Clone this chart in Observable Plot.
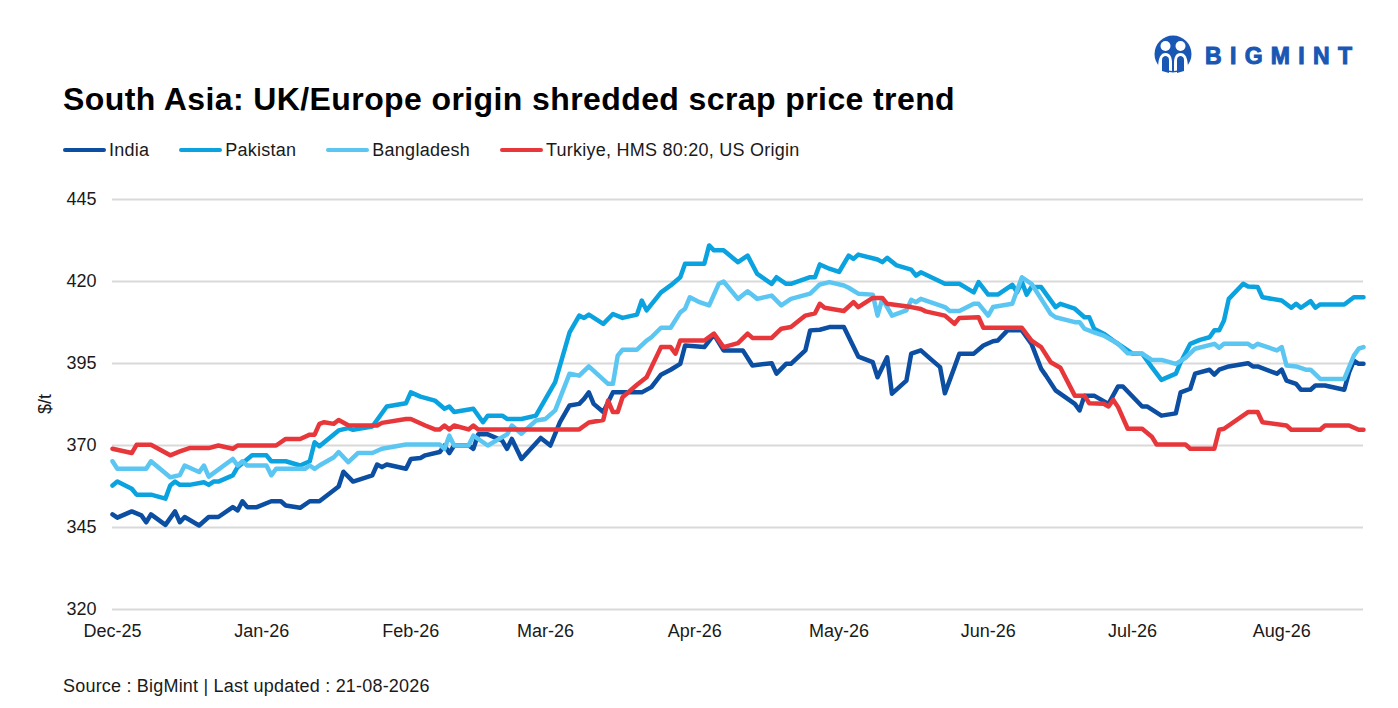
<!DOCTYPE html>
<html><head><meta charset="utf-8">
<script src="https://cdn.jsdelivr.net/npm/d3@7"></script>
<script src="https://cdn.jsdelivr.net/npm/@observablehq/plot@0.6"></script>
<style>
body{margin:0;background:#fff;font-family:"Liberation Sans",Arial,sans-serif;color:#1a1a1a;}
#wrap{position:relative;width:1398px;height:708px;overflow:hidden;background:#fff;}
#title{position:absolute;left:63px;top:83px;font-size:32px;line-height:32px;font-weight:bold;color:#000;white-space:nowrap;letter-spacing:0.4px;}
#legend{position:absolute;left:63px;top:141px;height:18px;display:flex;align-items:center;font-size:18px;line-height:18px;white-space:nowrap;letter-spacing:0.25px;}
.item{display:flex;align-items:center;margin-right:30px;}
.swatch{width:43px;height:4.5px;border-radius:2px;margin-right:3px;}
#chart{position:absolute;left:0;top:170px;}
#ylabel{position:absolute;left:45px;top:404px;transform:translate(-50%,-50%) rotate(-90deg);font-size:18px;line-height:18px;white-space:nowrap;}
#source{position:absolute;left:63px;top:677px;font-size:18px;line-height:18px;white-space:nowrap;letter-spacing:0.2px;}
#logo{position:absolute;left:1150px;top:33px;}
</style></head><body>
<div id="wrap">
  <div id="title">South Asia: UK/Europe origin shredded scrap price trend</div>
  <div id="legend"></div>
  <div id="chart"></div>
  <div id="ylabel">$/t</div>
  <div id="source">Source : BigMint | Last updated : 21-08-2026</div>
  <svg id="logo" width="210" height="44" viewBox="0 0 210 44">
    <circle cx="23" cy="21" r="18.5" fill="#1957b4"/>
    <circle cx="15.5" cy="13" r="5" fill="#fff"/>
    <circle cx="30.5" cy="13" r="5" fill="#fff"/>
    <path d="M8 36 C8 24 11 20 15.5 20 C20 20 22 24 22 30 L22 38 Z" fill="#fff"/>
    <path d="M24 38 L24 30 C24 24 26 20 30.5 20 C35 20 38 24 38 36 Z" fill="#fff"/>
    <path d="M12 38 L12 27 C12 24 14 23 15.5 23 C17 23 19 24 19 27 L19 40 Z" fill="#1957b4"/>
    <path d="M27 40 L27 27 C27 24 29 23 30.5 23 C32 23 34 24 34 27 L34 38 Z" fill="#1957b4"/>
    <text x="55" y="31" font-family="Liberation Sans, Arial, sans-serif" font-weight="bold" font-size="23" fill="#1957b4" stroke="#1957b4" stroke-width="1" textLength="147" lengthAdjust="spacing">BIGMINT</text>
  </svg>
</div>
<script>
const seriesNames = ["India", "Pakistan", "Bangladesh", "Turkiye, HMS 80:20, US Origin"];
const seriesColors = ["#0b4ea2", "#0aa2df", "#5bc6f2", "#e8373b"];
const yTicks = [320, 345, 370, 395, 420, 445];
const xStart = "2025-12-01";
const xEnd = "2026-08-18";

const india = [["2025-12-01",349.0],["2025-12-02",348.0],["2025-12-05",349.9],["2025-12-07",348.7],["2025-12-08",346.6],["2025-12-09",349.0],["2025-12-12",345.8],["2025-12-14",349.9],["2025-12-15",346.6],["2025-12-16",348.2],["2025-12-19",345.6],["2025-12-21",348.2],["2025-12-23",348.2],["2025-12-26",351.2],["2025-12-27",350.2],["2025-12-28",353.0],["2025-12-29",351.2],["2025-12-31",351.2],["2026-01-03",353.0],["2026-01-05",353.0],["2026-01-06",351.7],["2026-01-09",351.0],["2026-01-11",353.0],["2026-01-13",353.0],["2026-01-17",357.5],["2026-01-18",362.0],["2026-01-20",359.0],["2026-01-24",360.9],["2026-01-25",364.2],["2026-01-26",363.4],["2026-01-27",364.2],["2026-01-31",362.9],["2026-02-01",365.9],["2026-02-03",366.2],["2026-02-04",367.0],["2026-02-07",368.0],["2026-02-08",370.0],["2026-02-09",367.7],["2026-02-10",370.0],["2026-02-13",370.0],["2026-02-14",369.0],["2026-02-15",373.4],["2026-02-17",373.4],["2026-02-20",371.5],["2026-02-21",369.0],["2026-02-22",372.0],["2026-02-24",365.9],["2026-02-28",372.3],["2026-03-02",370.0],["2026-03-04",377.1],["2026-03-06",382.2],["2026-03-08",382.7],["2026-03-09",384.2],["2026-03-10",386.2],["2026-03-11",382.7],["2026-03-13",380.2],["2026-03-15",386.2],["2026-03-21",386.2],["2026-03-23",387.8],["2026-03-25",391.6],["2026-03-27",393.1],["2026-03-29",394.9],["2026-03-30",400.5],["2026-04-03",400.0],["2026-04-05",403.8],["2026-04-07",399.0],["2026-04-11",399.0],["2026-04-13",394.4],["2026-04-17",395.1],["2026-04-18",391.9],["2026-04-20",394.9],["2026-04-21",394.9],["2026-04-24",399.0],["2026-04-25",405.1],["2026-04-27",405.3],["2026-04-29",406.1],["2026-05-02",406.1],["2026-05-05",397.1],["2026-05-08",395.4],["2026-05-09",390.8],["2026-05-11",396.9],["2026-05-12",385.8],["2026-05-15",389.8],["2026-05-16",398.0],["2026-05-18",399.0],["2026-05-20",396.4],["2026-05-22",393.9],["2026-05-23",385.9],["2026-05-25",393.9],["2026-05-26",398.0],["2026-05-29",398.0],["2026-05-31",400.5],["2026-06-02",401.8],["2026-06-03",402.0],["2026-06-05",405.1],["2026-06-08",405.1],["2026-06-10",401.0],["2026-06-12",393.4],["2026-06-13",391.3],["2026-06-15",386.8],["2026-06-19",382.7],["2026-06-20",380.7],["2026-06-21",385.2],["2026-06-23",385.2],["2026-06-26",382.7],["2026-06-28",388.0],["2026-06-29",388.0],["2026-07-03",381.9],["2026-07-04",381.9],["2026-07-07",379.1],["2026-07-10",379.8],["2026-07-11",386.2],["2026-07-13",387.3],["2026-07-14",391.9],["2026-07-17",393.1],["2026-07-18",391.6],["2026-07-19",393.1],["2026-07-21",394.1],["2026-07-25",395.1],["2026-07-26",394.1],["2026-07-27",394.1],["2026-07-31",391.9],["2026-08-01",393.1],["2026-08-02",389.8],["2026-08-04",388.8],["2026-08-05",387.0],["2026-08-07",387.0],["2026-08-08",388.3],["2026-08-10",388.3],["2026-08-14",387.0],["2026-08-15",392.3],["2026-08-16",395.9],["2026-08-17",394.9],["2026-08-18",394.9]];

const pakistan = [["2025-12-01",357.8],["2025-12-02",359.0],["2025-12-05",356.8],["2025-12-06",355.0],["2025-12-09",355.0],["2025-12-12",353.8],["2025-12-13",357.8],["2025-12-14",359.0],["2025-12-15",358.0],["2025-12-17",358.0],["2025-12-20",358.8],["2025-12-21",358.0],["2025-12-22",359.0],["2025-12-23",359.0],["2025-12-26",360.9],["2025-12-27",363.4],["2025-12-30",367.0],["2026-01-02",367.0],["2026-01-03",365.2],["2026-01-06",365.2],["2026-01-09",363.9],["2026-01-11",365.2],["2026-01-12",371.0],["2026-01-13",369.8],["2026-01-17",374.6],["2026-01-19",375.3],["2026-01-20",374.8],["2026-01-24",375.8],["2026-01-27",381.9],["2026-01-31",382.9],["2026-02-01",386.2],["2026-02-03",384.9],["2026-02-06",383.7],["2026-02-08",381.2],["2026-02-09",381.9],["2026-02-10",380.2],["2026-02-14",381.2],["2026-02-16",377.1],["2026-02-17",379.1],["2026-02-20",379.1],["2026-02-21",378.1],["2026-02-24",378.1],["2026-02-27",379.1],["2026-03-01",384.2],["2026-03-03",389.3],["2026-03-06",404.5],["2026-03-08",409.6],["2026-03-09",408.9],["2026-03-10",409.9],["2026-03-13",407.1],["2026-03-15",410.1],["2026-03-17",408.9],["2026-03-20",409.9],["2026-03-21",414.2],["2026-03-22",411.2],["2026-03-25",416.7],["2026-03-27",418.8],["2026-03-29",421.3],["2026-03-30",425.4],["2026-04-03",425.4],["2026-04-04",431.0],["2026-04-05",429.5],["2026-04-07",429.5],["2026-04-10",425.9],["2026-04-12",427.9],["2026-04-14",422.3],["2026-04-17",419.3],["2026-04-18",421.3],["2026-04-20",419.3],["2026-04-21",419.3],["2026-04-25",421.3],["2026-04-26",421.3],["2026-04-27",425.2],["2026-04-29",423.9],["2026-05-01",422.9],["2026-05-03",427.9],["2026-05-04",426.9],["2026-05-05",428.2],["2026-05-09",426.7],["2026-05-10",425.9],["2026-05-11",427.2],["2026-05-13",424.9],["2026-05-16",423.6],["2026-05-17",421.8],["2026-05-18",422.8],["2026-05-23",419.3],["2026-05-26",419.3],["2026-05-29",416.7],["2026-05-30",419.8],["2026-06-01",416.0],["2026-06-03",416.0],["2026-06-06",419.0],["2026-06-07",416.7],["2026-06-08",419.8],["2026-06-09",416.0],["2026-06-10",418.3],["2026-06-12",418.3],["2026-06-15",412.2],["2026-06-16",413.2],["2026-06-19",411.7],["2026-06-21",409.1],["2026-06-22",409.1],["2026-06-23",405.6],["2026-06-25",404.1],["2026-06-27",402.0],["2026-07-01",398.0],["2026-07-03",398.0],["2026-07-05",393.9],["2026-07-07",390.0],["2026-07-10",391.9],["2026-07-11",395.4],["2026-07-13",401.0],["2026-07-15",402.2],["2026-07-17",403.0],["2026-07-18",405.1],["2026-07-19",405.1],["2026-07-20",408.1],["2026-07-21",414.7],["2026-07-24",419.3],["2026-07-25",418.5],["2026-07-27",418.3],["2026-07-28",415.2],["2026-08-01",414.2],["2026-08-03",412.0],["2026-08-04",413.2],["2026-08-05",412.0],["2026-08-07",414.0],["2026-08-08",412.0],["2026-08-09",413.0],["2026-08-14",413.0],["2026-08-16",415.2],["2026-08-18",415.2]];

const bangladesh = [["2025-12-01",365.2],["2025-12-02",362.9],["2025-12-08",362.9],["2025-12-09",365.2],["2025-12-13",360.3],["2025-12-15",361.0],["2025-12-16",363.9],["2025-12-19",361.9],["2025-12-20",363.9],["2025-12-21",360.5],["2025-12-26",365.9],["2025-12-27",363.9],["2025-12-28",365.2],["2025-12-29",363.9],["2026-01-02",363.9],["2026-01-03",360.9],["2026-01-04",362.9],["2026-01-10",362.9],["2026-01-11",363.9],["2026-01-12",362.9],["2026-01-13",363.9],["2026-01-16",366.4],["2026-01-17",368.0],["2026-01-19",364.9],["2026-01-21",367.7],["2026-01-24",367.7],["2026-01-26",369.0],["2026-01-31",370.3],["2026-02-07",370.3],["2026-02-08",369.0],["2026-02-09",373.0],["2026-02-10",370.0],["2026-02-13",370.0],["2026-02-14",373.0],["2026-02-17",370.0],["2026-02-21",373.4],["2026-02-22",376.1],["2026-02-24",373.6],["2026-02-27",377.6],["2026-03-01",378.1],["2026-03-03",380.7],["2026-03-06",391.9],["2026-03-08",391.3],["2026-03-10",394.1],["2026-03-14",388.8],["2026-03-15",388.8],["2026-03-16",397.4],["2026-03-17",399.2],["2026-03-20",399.2],["2026-03-22",402.0],["2026-03-23",403.0],["2026-03-25",405.9],["2026-03-27",405.9],["2026-03-29",410.6],["2026-03-30",411.7],["2026-03-31",415.2],["2026-04-02",413.7],["2026-04-04",412.7],["2026-04-06",419.3],["2026-04-07",420.0],["2026-04-10",414.7],["2026-04-12",417.0],["2026-04-14",414.7],["2026-04-17",415.7],["2026-04-19",412.7],["2026-04-21",414.7],["2026-04-25",416.3],["2026-04-27",419.1],["2026-04-29",419.8],["2026-05-02",418.8],["2026-05-03",418.1],["2026-05-05",416.3],["2026-05-08",416.0],["2026-05-09",409.6],["2026-05-10",414.7],["2026-05-12",409.6],["2026-05-15",411.2],["2026-05-16",414.4],["2026-05-17",413.7],["2026-05-18",414.7],["2026-05-23",412.2],["2026-05-24",411.0],["2026-05-26",411.0],["2026-05-29",413.2],["2026-05-30",413.2],["2026-06-01",409.6],["2026-06-02",412.2],["2026-06-06",413.2],["2026-06-08",421.3],["2026-06-10",419.3],["2026-06-12",414.7],["2026-06-14",410.1],["2026-06-15",409.1],["2026-06-19",407.6],["2026-06-20",407.6],["2026-06-21",405.6],["2026-06-23",404.5],["2026-06-25",403.5],["2026-06-28",401.0],["2026-06-30",398.1],["2026-07-03",398.0],["2026-07-05",396.1],["2026-07-07",396.1],["2026-07-10",394.9],["2026-07-12",396.7],["2026-07-14",399.5],["2026-07-18",401.0],["2026-07-19",399.8],["2026-07-20",401.0],["2026-07-25",401.0],["2026-07-26",400.0],["2026-07-27",401.0],["2026-07-31",399.0],["2026-08-01",400.0],["2026-08-02",394.4],["2026-08-04",394.1],["2026-08-06",393.1],["2026-08-07",393.1],["2026-08-09",390.3],["2026-08-14",390.3],["2026-08-16",397.4],["2026-08-17",399.5],["2026-08-18",400.0]];

const turkiye = [["2025-12-01",369.0],["2025-12-05",367.7],["2025-12-06",370.2],["2025-12-09",370.2],["2025-12-13",367.0],["2025-12-15",368.2],["2025-12-17",369.2],["2025-12-21",369.2],["2025-12-23",370.0],["2025-12-26",369.0],["2025-12-27",370.0],["2026-01-04",370.0],["2026-01-06",372.0],["2026-01-09",372.0],["2026-01-11",373.3],["2026-01-12",373.3],["2026-01-13",376.6],["2026-01-14",377.1],["2026-01-16",376.6],["2026-01-17",377.8],["2026-01-19",376.2],["2026-01-25",376.1],["2026-01-26",376.9],["2026-01-31",378.1],["2026-02-01",378.1],["2026-02-04",376.1],["2026-02-06",374.9],["2026-02-07",374.9],["2026-02-08",376.1],["2026-02-09",374.9],["2026-02-10",376.1],["2026-02-13",374.9],["2026-02-14",376.1],["2026-02-15",374.9],["2026-03-08",374.9],["2026-03-10",377.0],["2026-03-13",377.8],["2026-03-14",383.7],["2026-03-15",380.2],["2026-03-16",380.2],["2026-03-17",384.7],["2026-03-20",388.5],["2026-03-22",390.8],["2026-03-25",400.0],["2026-03-27",400.0],["2026-03-28",398.0],["2026-03-29",402.0],["2026-04-03",402.0],["2026-04-05",404.1],["2026-04-07",400.0],["2026-04-10",401.2],["2026-04-12",404.1],["2026-04-13",402.8],["2026-04-17",402.8],["2026-04-19",405.6],["2026-04-21",406.1],["2026-04-24",409.6],["2026-04-26",410.3],["2026-04-27",413.2],["2026-04-28",412.0],["2026-05-02",411.0],["2026-05-04",413.7],["2026-05-05",412.2],["2026-05-08",415.0],["2026-05-10",415.0],["2026-05-11",413.2],["2026-05-16",412.2],["2026-05-18",411.6],["2026-05-19",410.9],["2026-05-23",409.6],["2026-05-25",407.1],["2026-05-26",408.9],["2026-05-30",409.1],["2026-05-31",405.9],["2026-06-08",405.9],["2026-06-10",402.0],["2026-06-12",400.0],["2026-06-14",395.4],["2026-06-16",393.7],["2026-06-19",385.2],["2026-06-21",385.2],["2026-06-22",382.9],["2026-06-25",382.7],["2026-06-26",381.9],["2026-06-27",383.9],["2026-06-28",381.7],["2026-06-30",375.1],["2026-07-03",375.1],["2026-07-05",372.7],["2026-07-06",370.3],["2026-07-12",370.3],["2026-07-13",369.0],["2026-07-18",369.0],["2026-07-19",374.8],["2026-07-20",375.1],["2026-07-25",380.2],["2026-07-27",380.2],["2026-07-28",377.1],["2026-08-02",376.1],["2026-08-03",374.8],["2026-08-09",374.8],["2026-08-10",376.1],["2026-08-15",376.1],["2026-08-17",374.8],["2026-08-18",374.8]];

const parseDate = d3.utcParse("%Y-%m-%d");
const seriesData = [india, pakistan, bangladesh, turkiye];
const rows = seriesData.flatMap((arr, i) => arr.map(([d, v]) => ({series: seriesNames[i], date: parseDate(d), value: v})));

// legend
const legend = document.getElementById("legend");
seriesNames.forEach((n, i) => {
  const it = document.createElement("div");
  it.className = "item";
  const sw = document.createElement("span");
  sw.className = "swatch";
  sw.style.background = seriesColors[i];
  const lb = document.createElement("span");
  lb.textContent = n;
  it.appendChild(sw); it.appendChild(lb);
  legend.appendChild(it);
});

const d0 = parseDate(xStart), d1 = parseDate(xEnd);
const chart = Plot.plot({
  width: 1398,
  height: 480,
  marginTop: 29,
  marginBottom: 41,
  marginLeft: 112,
  marginRight: 35,
  style: {fontFamily: "Liberation Sans, Arial, sans-serif", fontSize: "18px", color: "#1a1a1a", background: "transparent", overflow: "visible"},
  x: {type: "utc", domain: [d0, d1], ticks: d3.utcMonth.range(d0, d1), tickFormat: d3.utcFormat("%b-%y"), tickSize: 0, tickPadding: 15, label: null},
  y: {domain: [320, 445], ticks: yTicks, tickSize: 0, tickPadding: 16, label: null},
  color: {domain: seriesNames, range: seriesColors},
  marks: [
    Plot.ruleY(yTicks, {stroke: "#d9d9d9", strokeWidth: 2}),
    Plot.lineY(rows, {x: "date", y: "value", z: "series", stroke: "series", strokeWidth: 4.5, strokeLinejoin: "round", strokeLinecap: "round"})
  ]
});
document.getElementById("chart").appendChild(chart);
</script>
</body></html>
